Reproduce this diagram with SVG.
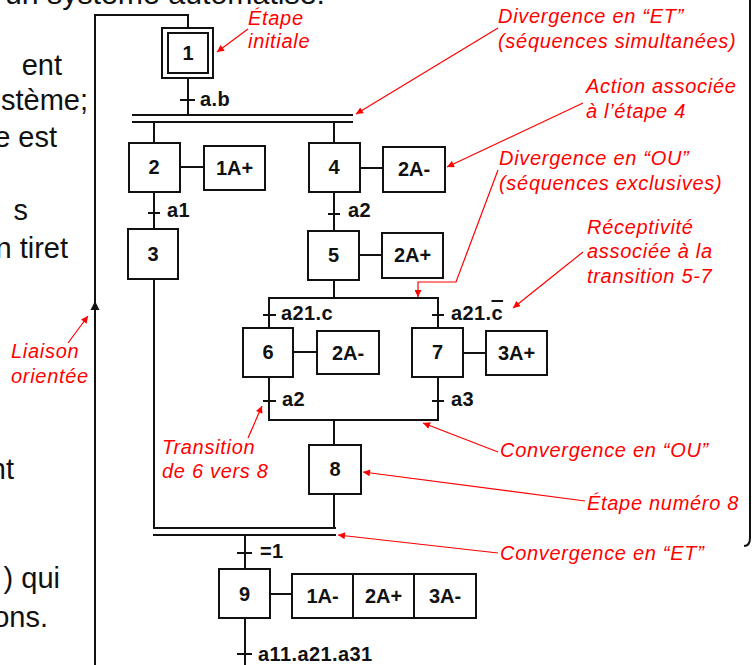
<svg xmlns="http://www.w3.org/2000/svg" width="752" height="665" viewBox="0 0 752 665">
<style>
  .ln{stroke:#111;stroke-width:2;fill:none}
  .box{stroke:#111;stroke-width:2;fill:#fff}
  .lbl{font-family:"Liberation Sans",Arial,sans-serif;font-weight:bold;font-size:20px;fill:#111;letter-spacing:0.4px}
  .num{font-family:"Liberation Sans",Arial,sans-serif;font-weight:bold;font-size:20px;fill:#111;text-anchor:middle}
  .red{font-family:"Liberation Sans",Arial,sans-serif;font-style:italic;font-size:20px;fill:#ff0000;letter-spacing:0.7px}
  .ra{stroke:#ff0000;stroke-width:1.2;fill:none}
  .body{font-family:"Liberation Sans",Arial,sans-serif;font-size:29px;fill:#111;text-anchor:end}
</style>
<defs>
  <marker id="rh" viewBox="0 0 10 10" refX="10" refY="5" markerWidth="9" markerHeight="7" markerUnits="userSpaceOnUse" orient="auto">
    <path d="M0,0 L10,5 L0,10 z" fill="#ff0000"/>
  </marker>
</defs>
<rect width="752" height="665" fill="#fff"/>

<g id="page-text">
  <text class="body" x="325" y="4" textLength="320" lengthAdjust="spacingAndGlyphs">un système automatisé.</text>
  <text class="body" x="62" y="75">ent</text>
  <text class="body" x="88" y="110">stème;</text>
  <text class="body" x="57" y="147">e est</text>
  <text class="body" x="28" y="220">s</text>
  <text class="body" x="68" y="258">n tiret</text>
  <text class="body" x="14" y="479">nt</text>
  <text class="body" x="60" y="588">) qui</text>
  <text class="body" x="48" y="627">ons.</text>
  <path class="ln" d="M750,0 V538 Q750,546 744,546" stroke="#333"/>
</g>

<g id="connectors">
  <!-- loop liaison -->
  <path class="ln" d="M95,665 V15 H188 V28"/>
  <path d="M95,301 L90.5,310 L99.5,310 z" fill="#111"/>
  <!-- step1 to divergence ET -->
  <path class="ln" d="M188,78 V115"/>
  <path class="ln" d="M180,100 H195"/>
  <path class="ln" d="M132,115 H353 M132,122 H353"/>
  <path class="ln" d="M154,122 V143 M334,122 V143"/>
  <!-- left seq -->
  <path class="ln" d="M154,192 V229 M148,213 H160"/>
  <path class="ln" d="M180,167 H204"/>
  <path class="ln" d="M154,279 V528"/>
  <!-- right seq -->
  <path class="ln" d="M334,192 V231 M328,214 H340"/>
  <path class="ln" d="M360,168 H383"/>
  <path class="ln" d="M359,255 H382"/>
  <path class="ln" d="M334,280 V298"/>
  <!-- OU divergence -->
  <path class="ln" d="M268,298 H439"/>
  <path class="ln" d="M269,298 V328 M263,315 H276"/>
  <path class="ln" d="M438,298 V328 M432,315 H444"/>
  <path class="ln" d="M293,352 H317"/>
  <path class="ln" d="M463,353 H486"/>
  <path class="ln" d="M269,377 V420 M263,401 H276"/>
  <path class="ln" d="M438,377 V420 M432,401 H444"/>
  <path class="ln" d="M268,420 H439"/>
  <path class="ln" d="M334,420 V445"/>
  <!-- ET convergence -->
  <path class="ln" d="M334,494 V528"/>
  <path class="ln" d="M153,528 H336 M153,535 H336"/>
  <path class="ln" d="M245,535 V569 M237,553 H252"/>
  <path class="ln" d="M270,594 H292"/>
  <path class="ln" d="M245,618 V665 M237,654 H252"/>
</g>

<g id="transition-labels">
  <text class="lbl" x="200" y="106">a.b</text>
  <text class="lbl" x="167" y="217">a1</text>
  <text class="lbl" x="348" y="217">a2</text>
  <text class="lbl" x="281" y="320">a21.c</text>
  <text class="lbl" x="451" y="320">a21.<tspan style="text-decoration:overline">c</tspan></text>
  <text class="lbl" x="282" y="406">a2</text>
  <text class="lbl" x="451" y="406">a3</text>
  <text class="lbl" x="260" y="558">=1</text>
  <text class="lbl" x="258" y="661">a11.a21.a31</text>
</g>

<g id="step1">
  <rect class="box" x="162" y="28" width="51" height="50"/>
  <rect class="box" x="168" y="33" width="40" height="40"/>
  <text class="num" x="188" y="60">1</text>
</g>
<g id="step2"><rect class="box" x="129" y="143" width="51" height="49"/><text class="num" x="154" y="174">2</text></g>
<g id="action2"><rect class="box" x="204" y="146" width="61" height="44"/><text class="num" x="234.5" y="175">1A+</text></g>
<g id="step4"><rect class="box" x="309" y="143" width="51" height="49"/><text class="num" x="334" y="174">4</text></g>
<g id="action4"><rect class="box" x="383" y="147" width="62" height="45"/><text class="num" x="414" y="176">2A-</text></g>
<g id="step3"><rect class="box" x="128" y="229" width="50" height="50"/><text class="num" x="153" y="261">3</text></g>
<g id="step5"><rect class="box" x="308" y="231" width="51" height="49"/><text class="num" x="333.5" y="262">5</text></g>
<g id="action5"><rect class="box" x="382" y="233" width="61" height="45"/><text class="num" x="412.5" y="262">2A+</text></g>
<g id="step6"><rect class="box" x="243" y="328" width="50" height="49"/><text class="num" x="268" y="359">6</text></g>
<g id="action6"><rect class="box" x="317" y="331" width="62" height="43"/><text class="num" x="348" y="360">2A-</text></g>
<g id="step7"><rect class="box" x="412" y="328" width="51" height="49"/><text class="num" x="437.5" y="359">7</text></g>
<g id="action7"><rect class="box" x="486" y="331" width="61" height="44"/><text class="num" x="516.5" y="360">3A+</text></g>
<g id="step8"><rect class="box" x="309" y="445" width="52" height="49"/><text class="num" x="335" y="476">8</text></g>
<g id="step9"><rect class="box" x="219" y="569" width="51" height="49"/><text class="num" x="244.5" y="601">9</text></g>
<g id="action9">
  <rect class="box" x="292" y="574" width="184" height="44"/>
  <path class="ln" d="M353,574 V618 M414,574 V618"/>
  <text class="num" x="322.5" y="603">1A-</text>
  <text class="num" x="383.5" y="603">2A+</text>
  <text class="num" x="445" y="603">3A-</text>
</g>

<g id="annotations">
  <text class="red" x="248" y="25">Étape</text>
  <text class="red" x="248" y="48">initiale</text>
  <path class="ra" d="M248,29 L217,52" marker-end="url(#rh)"/>

  <text class="red" x="498" y="23">Divergence en “ET”</text>
  <text class="red" x="498" y="48">(séquences simultanées)</text>
  <path class="ra" d="M498,28 L356,114" marker-end="url(#rh)"/>

  <text class="red" x="586" y="93">Action associée</text>
  <text class="red" x="586" y="118">à l’étape 4</text>
  <path class="ra" d="M583,103 L447,167" marker-end="url(#rh)"/>

  <text class="red" x="499" y="165">Divergence en “OU”</text>
  <text class="red" x="499" y="190">(séquences exclusives)</text>
  <path class="ra" d="M498,170 L456,282 L418,282 L418,297" marker-end="url(#rh)"/>

  <text class="red" x="587" y="234">Réceptivité</text>
  <text class="red" x="587" y="258">associée à la</text>
  <text class="red" x="587" y="283">transition 5-7</text>
  <path class="ra" d="M583,252 L513,308" marker-end="url(#rh)"/>

  <text class="red" x="11" y="358">Liaison</text>
  <text class="red" x="11" y="383">orientée</text>
  <path class="ra" d="M68,343 L88,316" marker-end="url(#rh)"/>

  <text class="red" x="162" y="454">Transition</text>
  <text class="red" x="162" y="478">de 6 vers 8</text>
  <path class="ra" d="M248,438 L262,406" marker-end="url(#rh)"/>

  <text class="red" x="500" y="457">Convergence en “OU”</text>
  <path class="ra" d="M498,452 L423,423" marker-end="url(#rh)"/>

  <text class="red" x="587" y="510">Étape numéro 8</text>
  <path class="ra" d="M585,501 L363,472" marker-end="url(#rh)"/>

  <text class="red" x="500" y="560">Convergence en “ET”</text>
  <path class="ra" d="M498,553 L338,535" marker-end="url(#rh)"/>
</g>
</svg>
